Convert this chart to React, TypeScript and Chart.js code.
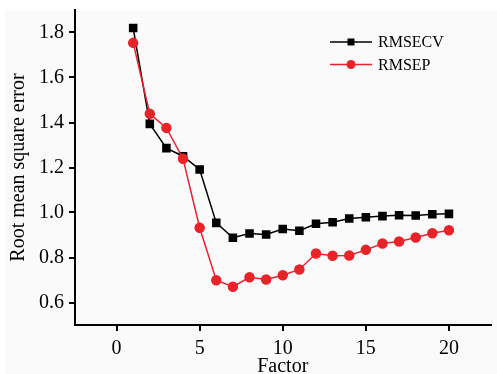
import React, { useEffect, useRef } from "react";
import { Chart, registerables } from "chart.js";

Chart.register(...registerables);

const factors = [1, 2, 3, 4, 5, 6, 7, 8, 9, 10, 11, 12, 13, 14, 15, 16, 17, 18, 19, 20];
const rmsecv = [1.82, 1.394, 1.286, 1.25, 1.191, 0.954, 0.888, 0.907, 0.902, 0.927, 0.919, 0.95, 0.957, 0.973, 0.979, 0.984, 0.988, 0.987, 0.992, 0.994];
const rmsep = [1.754, 1.439, 1.376, 1.239, 0.932, 0.699, 0.67, 0.712, 0.702, 0.721, 0.747, 0.818, 0.808, 0.809, 0.834, 0.862, 0.871, 0.889, 0.908, 0.921];
const xTicks = [0, 5, 10, 15, 20];
const yTicks = [0.6, 0.8, 1.0, 1.2, 1.4, 1.6, 1.8];

const FONT = "'Liberation Serif', 'Times New Roman', serif";
const RED = "#e8232a";

const bgPlugin = {
  id: "bg",
  beforeDraw(chart: any) {
    const ctx = chart.ctx;
    ctx.save();
    ctx.fillStyle = "#ffffff";
    ctx.fillRect(0, 0, chart.width, chart.height);
    ctx.fillStyle = "#fafafa";
    ctx.fillRect(5, 10, chart.width - 5, chart.height - 10);
    ctx.restore();
  },
};

const legendPlugin = {
  id: "customLegend",
  afterDraw(chart: any) {
    const ctx = chart.ctx;
    ctx.save();
    chart.data.datasets.forEach((ds: any, i: number) => {
      const y = 42 + i * 22.5;
      const x0 = 330;
      const x1 = 372;
      ctx.strokeStyle = ds.borderColor;
      ctx.lineWidth = 1.5;
      ctx.beginPath();
      ctx.moveTo(x0, y);
      ctx.lineTo(x1, y);
      ctx.stroke();
      ctx.fillStyle = ds.pointBackgroundColor;
      const cx = (x0 + x1) / 2;
      if (ds.pointStyle === "rect") {
        ctx.fillRect(cx - 3.5, y - 3.5, 7, 7);
      } else {
        ctx.beginPath();
        ctx.arc(cx, y, 4.5, 0, Math.PI * 2);
        ctx.fill();
      }
      ctx.fillStyle = "#000";
      ctx.font = `16px ${FONT}`;
      ctx.textBaseline = "middle";
      ctx.textAlign = "left";
      ctx.fillText(ds.label, 378, y + 1);
    });
    ctx.restore();
  },
};

export default function App() {
  const ref = useRef<HTMLCanvasElement>(null);
  useEffect(() => {
    const chart = new Chart(ref.current!, {
      type: "line",
      data: {
        datasets: [
          {
            label: "RMSECV",
            data: factors.map((f, i) => ({ x: f, y: rmsecv[i] })),
            borderColor: "#000000",
            backgroundColor: "#000000",
            pointBackgroundColor: "#000000",
            pointBorderColor: "#000000",
            pointStyle: "rect",
            pointRadius: 5,
            borderWidth: 1.5,
            order: 1,
          },
          {
            label: "RMSEP",
            data: factors.map((f, i) => ({ x: f, y: rmsep[i] })),
            borderColor: RED,
            backgroundColor: RED,
            pointBackgroundColor: RED,
            pointBorderColor: RED,
            pointStyle: "circle",
            pointRadius: 4.5,
            borderWidth: 1.5,
            order: 0,
          },
        ],
      },
      options: {
        animation: false,
        responsive: false,
        devicePixelRatio: 1,
        layout: { padding: { top: 10, right: 0, left: 0, bottom: 0 } },
        plugins: { legend: { display: false }, tooltip: { enabled: false } },
        scales: {
          x: {
            type: "linear",
            min: -2.5,
            max: 22.5,
            afterBuildTicks: (axis: any) => {
              axis.ticks = xTicks.map((v) => ({ value: v }));
            },
            afterFit: (s: any) => {
              s.paddingLeft = 0;
              s.paddingRight = 0;
              s.height = 49;
            },
            ticks: { color: "#000", font: { family: FONT, size: 20 }, padding: 6, maxRotation: 0 },
            grid: { drawOnChartArea: false, drawTicks: true, tickLength: 6, color: "#000", lineWidth: 2 },
            border: { display: true, color: "#000", width: 2 },
            title: { display: true, text: "Factor", color: "#000", font: { family: FONT, size: 20, lineHeight: 1 }, padding: { top: 0, bottom: -3 } },
          },
          y: {
            type: "linear",
            min: 0.5,
            max: 1.9,
            afterBuildTicks: (axis: any) => {
              axis.ticks = yTicks.map((v) => ({ value: v }));
            },
            afterFit: (s: any) => {
              s.paddingTop = 0;
              s.paddingBottom = 0;
              s.width = 75;
            },
            ticks: {
              color: "#000",
              font: { family: FONT, size: 20 },
              padding: 5,
              callback: (v: any) => Number(v).toFixed(1),
            },
            grid: { drawOnChartArea: false, drawTicks: true, tickLength: 6, color: "#000", lineWidth: 2 },
            border: { display: true, color: "#000", width: 2 },
            title: { display: true, text: "Root mean square error", color: "#000", font: { family: FONT, size: 20 }, padding: { top: 7, bottom: 0 } },
          },
        },
      },
      plugins: [bgPlugin, legendPlugin],
    } as any);
    return () => chart.destroy();
  }, []);
  return (
    <div style={{ position: "absolute", left: 0, top: 0, width: 497, height: 374 }}>
      <canvas ref={ref} width={497} height={374} style={{ display: "block" }} />
    </div>
  );
}
